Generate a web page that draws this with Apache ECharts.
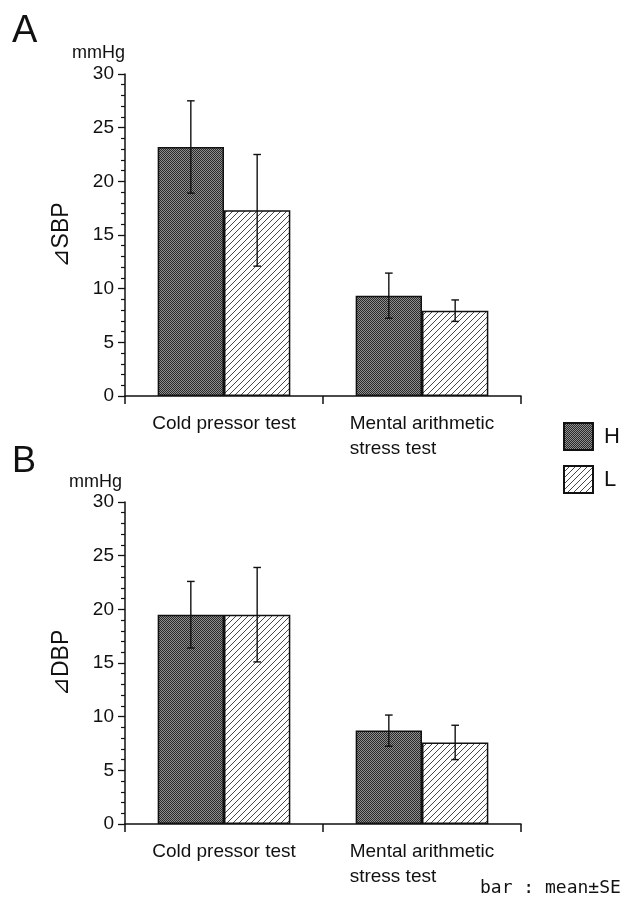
<!DOCTYPE html>
<html>
<head>
<meta charset="utf-8">
<script src="https://cdn.jsdelivr.net/npm/echarts@6/dist/echarts.min.js"></script>
<style>
  html, body { margin: 0; padding: 0; background: #fff; }
  #chart { width: 625px; height: 899px; }
</style>
</head>
<body>
<div id="chart"></div>
<script>
// Test categories (x axis)
const categories = ['Cold pressor test', 'Mental arithmetic\nstress test'];

// Panel A: change in systolic blood pressure (mmHg), mean and SE
const sbpH = [23.2, 9.35];
const sbpHSE = [4.3, 2.1];
const sbpL = [17.3, 7.95];
const sbpLSE = [5.2, 1.0];

// Panel B: change in diastolic blood pressure (mmHg), mean and SE
const dbpH = [19.5, 8.7];
const dbpHSE = [3.1, 1.45];
const dbpL = [19.5, 7.6];
const dbpLSE = [4.4, 1.6];

// Y axis range and tick step
const yMin = 0, yMax = 30, yStep = 5;

const FONT = 'Liberation Sans, Arial, DejaVu Sans, Noto Sans CJK JP, sans-serif';
const INK = '#111';

// Dark stippled fill for group H
function stipplePattern() {
  const c = document.createElement('canvas');
  c.width = 2; c.height = 2;
  const g = c.getContext('2d');
  g.fillStyle = '#8e8e8e'; g.fillRect(0, 0, 2, 2);
  g.fillStyle = '#2a2a2a';
  g.fillRect(0, 0, 1, 1);
  g.fillRect(1, 1, 1, 1);
  return c;
}
// Diagonal hatch fill for group L
function hatchPattern() {
  const s = 6;
  const c = document.createElement('canvas');
  c.width = s; c.height = s;
  const g = c.getContext('2d');
  g.fillStyle = '#ffffff'; g.fillRect(0, 0, s, s);
  g.strokeStyle = '#333'; g.lineWidth = 0.9;
  g.beginPath();
  g.moveTo(0, s); g.lineTo(s, 0);
  g.moveTo(-1, 1); g.lineTo(1, -1);
  g.moveTo(s - 1, s + 1); g.lineTo(s + 1, s - 1);
  g.stroke();
  return c;
}
const fillH = { image: stipplePattern(), repeat: 'repeat' };
const fillL = { image: hatchPattern(), repeat: 'repeat' };

const barGapRatio = 0.33;

function errRows(means, ses, side) {
  return means.map((m, i) => [i, m, ses[i], side]);
}

function renderErr(params, api) {
  const ci = api.value(0), mean = api.value(1), se = api.value(2), side = api.value(3);
  const band = api.size([1, 0])[0];
  const bw = band * (1 - barGapRatio) / 2;
  const x = api.coord([ci, mean])[0] + side * bw / 2;
  const yTop = api.coord([ci, mean + se])[1];
  const yBot = api.coord([ci, mean - se])[1];
  const cap = 3.8;
  const st = { stroke: INK, lineWidth: 1.4 };
  return {
    type: 'group',
    children: [
      { type: 'line', shape: { x1: x, y1: yTop, x2: x, y2: yBot }, style: st },
      { type: 'line', shape: { x1: x - cap, y1: yTop, x2: x + cap, y2: yTop }, style: st },
      { type: 'line', shape: { x1: x - cap, y1: yBot, x2: x + cap, y2: yBot }, style: st }
    ]
  };
}

function xAxisCfg(gi) {
  return {
    type: 'category', gridIndex: gi, data: categories,
    axisLine: { lineStyle: { color: INK, width: 1.5 } },
    axisTick: { show: true, length: 8, lineStyle: { color: INK, width: 1.5 } },
    axisLabel: {
      interval: 0, margin: 15, color: INK, fontFamily: FONT, fontSize: 19,
      formatter: v => v.split('\n').map(s => '{a|' + s + '}').join('\n'),
      rich: { a: { align: 'left', fontSize: 19, lineHeight: 25, fontFamily: FONT, color: INK } }
    },
    splitLine: { show: false }
  };
}

function yAxisCfg(gi, name) {
  return {
    type: 'value', gridIndex: gi, min: yMin, max: yMax, interval: yStep,
    name: name, nameLocation: 'middle', nameGap: 52, nameRotate: 90,
    nameTextStyle: { fontFamily: FONT, fontSize: 23, color: INK },
    axisLine: { show: true, lineStyle: { color: INK, width: 1.5 } },
    axisTick: { show: true, length: 7, lineStyle: { color: INK, width: 1.3 } },
    minorTick: { show: true, splitNumber: 5, length: 4, lineStyle: { color: INK, width: 1.2 } },
    axisLabel: { margin: 11, color: INK, fontFamily: FONT, fontSize: 19 },
    splitLine: { show: false }
  };
}

function barSeries(name, gi, data, fill) {
  return {
    name: name, type: 'bar', xAxisIndex: gi, yAxisIndex: gi, data: data,
    barGap: '0%', barCategoryGap: (barGapRatio * 100) + '%',
    itemStyle: { color: fill, borderColor: INK, borderWidth: 1.5 },
    z: 2
  };
}

function errSeries(gi, rows) {
  return {
    type: 'custom', xAxisIndex: gi, yAxisIndex: gi, data: rows,
    encode: { x: 0, y: 1 }, renderItem: renderErr, z: 5, silent: true
  };
}

const chart = echarts.init(document.getElementById('chart'), null, { renderer: 'canvas' });
chart.setOption({
  backgroundColor: '#fff',
  animation: false,
  title: [
    { text: 'A', left: 7, top: 8, textStyle: { fontFamily: FONT, fontSize: 38, fontWeight: 'normal', color: INK } },
    { text: 'B', left: 7, top: 439, textStyle: { fontFamily: FONT, fontSize: 36, fontWeight: 'normal', color: INK } }
  ],
  graphic: [
    { type: 'text', left: 72, top: 44, style: { text: 'mmHg', font: '18px ' + FONT, fill: INK } },
    { type: 'text', left: 69, top: 473, style: { text: 'mmHg', font: '18px ' + FONT, fill: INK } },
    { type: 'text', left: 480, top: 879, style: { text: 'bar : mean±SE', font: '18px DejaVu Sans Mono, monospace', fill: INK } }
  ],
  legend: {
    data: ['H', 'L'], orient: 'vertical', left: 558, top: 417,
    itemWidth: 29, itemHeight: 27, itemGap: 14, icon: 'rect',
    textStyle: { fontFamily: FONT, fontSize: 22, color: INK, padding: [0, 0, 0, 6] }
  },
  grid: [
    { left: 125, top: 74, width: 396, height: 322 },
    { left: 125, top: 502, width: 396, height: 322 }
  ],
  xAxis: [xAxisCfg(0), xAxisCfg(1)],
  yAxis: [yAxisCfg(0, '⊿SBP'), yAxisCfg(1, '⊿DBP')],
  series: [
    barSeries('H', 0, sbpH, fillH),
    barSeries('L', 0, sbpL, fillL),
    barSeries('H', 1, dbpH, fillH),
    barSeries('L', 1, dbpL, fillL),
    errSeries(0, errRows(sbpH, sbpHSE, -1).concat(errRows(sbpL, sbpLSE, 1))),
    errSeries(1, errRows(dbpH, dbpHSE, -1).concat(errRows(dbpL, dbpLSE, 1)))
  ]
});
</script>
</body>
</html>
